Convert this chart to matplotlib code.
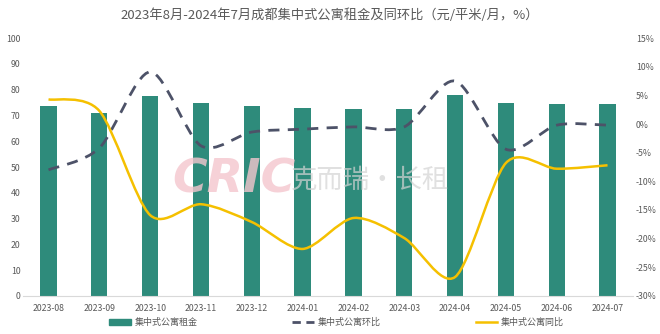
import numpy as np
import matplotlib
matplotlib.use("Agg")
import matplotlib.pyplot as plt
from matplotlib.path import Path
from matplotlib.patches import PathPatch
from matplotlib.lines import Line2D
from matplotlib.patches import Patch

plt.rcParams['font.family'] = ['Noto Sans CJK SC', 'DejaVu Sans']

# 数据
months = ['2023-08', '2023-09', '2023-10', '2023-11', '2023-12', '2024-01',
          '2024-02', '2024-03', '2024-04', '2024-05', '2024-06', '2024-07']
rent = [73.6, 70.9, 77.5, 74.8, 73.6, 72.9, 72.5, 72.5, 77.9, 74.8, 74.4, 74.4]
mom = [-8.0, -4.2, 9.1, -3.8, -1.4, -0.9, -0.5, -0.5, 7.5, -4.4, -0.2, -0.2]
yoy = [4.3, 2.3, -15.9, -14.0, -17.1, -21.8, -16.4, -19.9, -26.7, -6.8, -7.8, -7.2]

bar_color = '#2e8b7b'
mom_color = '#4d5268'
yoy_color = '#f5c000'
text_color = '#595959'


def smooth_path(xs, ys, k=1 / 7):
    # Catmull-Rom -> 三次贝塞尔, 类似 Excel 平滑线
    xs = np.asarray(xs, float)
    ys = np.asarray(ys, float)
    n = len(xs)
    verts = [(xs[0], ys[0])]
    codes = [Path.MOVETO]
    for i in range(n - 1):
        p0 = (xs[max(i - 1, 0)], ys[max(i - 1, 0)])
        p1 = (xs[i], ys[i])
        p2 = (xs[i + 1], ys[i + 1])
        p3 = (xs[min(i + 2, n - 1)], ys[min(i + 2, n - 1)])
        c1 = (p1[0] + (p2[0] - p0[0]) * k, p1[1] + (p2[1] - p0[1]) * k)
        c2 = (p2[0] - (p3[0] - p1[0]) * k, p2[1] - (p3[1] - p1[1]) * k)
        verts += [c1, c2, p2]
        codes += [Path.CURVE4] * 3
    return Path(verts, codes)


fig = plt.figure(figsize=(6.6, 3.34), dpi=100)
ax = fig.add_axes([0.035, 0.114, 0.924, 0.772])
x = np.arange(len(months))
ax.bar(x, rent, width=0.32, color=bar_color, zorder=2)
ax.set_xlim(-0.5, len(months) - 0.5)
ax.set_ylim(0, 100)
ax.set_yticks(range(0, 101, 10))
ax.set_xticks(x)
ax.set_xticklabels(months)

ax2 = ax.twinx()
ax2.set_ylim(-30, 15)
ax2.set_yticks(range(-30, 16, 5))
ax2.set_yticklabels([f'{v}%' for v in range(-30, 16, 5)])

ax2.add_patch(PathPatch(smooth_path(x, mom), fill=False, edgecolor=mom_color,
                        lw=2, linestyle=(0, (4, 3)), zorder=3))
ax2.add_patch(PathPatch(smooth_path(x, yoy), fill=False, edgecolor=yoy_color,
                        lw=1.8, zorder=3))

for a in (ax, ax2):
    for s in a.spines.values():
        s.set_visible(False)
    a.tick_params(length=0, labelsize=6.3, colors=text_color)
ax.spines['bottom'].set_visible(True)
ax.spines['bottom'].set_color('#d9d9d9')
ax.tick_params(axis='x', pad=6)
ax.tick_params(axis='y', pad=2)
ax2.tick_params(axis='y', pad=2)

# 水印
fig.text(0.355, 0.46, 'CRIC', fontsize=34, fontweight='bold', style='italic',
         color='#f4c6ce', alpha=0.8, ha='center', va='center', family='DejaVu Sans')
fig.text(0.56, 0.46, '克而瑞·长租', fontsize=19, color='#d3d3d3', alpha=0.7,
         ha='center', va='center')

fig.text(0.5, 0.955, '2023年8月-2024年7月成都集中式公寓租金及同环比（元/平米/月，%）',
         ha='center', va='center', fontsize=9.5, color=text_color)

handles = [Patch(color=bar_color),
           Line2D([], [], color=mom_color, lw=2, linestyle=(0, (3, 2))),
           Line2D([], [], color=yoy_color, lw=1.8)]
labels = ['集中式公寓租金', '集中式公寓环比', '集中式公寓同比']
fig.legend(handles, labels, loc='center', bbox_to_anchor=(0.51, 0.035), ncol=3,
           frameon=False, fontsize=6.5, labelcolor=text_color, columnspacing=10.5,
           handlelength=2.4, handleheight=0.6, handletextpad=0.4)

fig.savefig('out.png', dpi=100)
